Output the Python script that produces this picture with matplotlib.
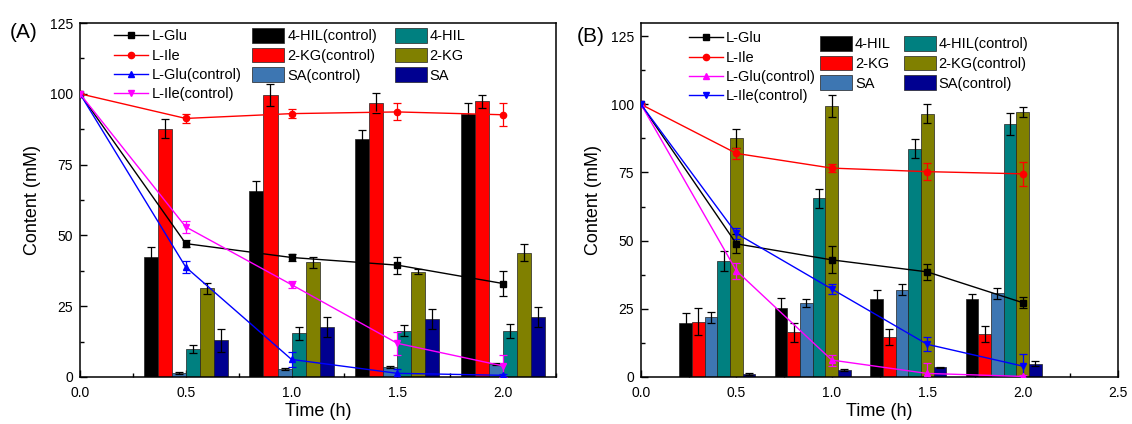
import numpy as np
import matplotlib
matplotlib.use('Agg')
import matplotlib.pyplot as plt
import matplotlib.ticker as ticker
from matplotlib.patches import Patch
from matplotlib.lines import Line2D

plt.rcParams['font.family'] = ['Liberation Sans', 'DejaVu Sans']

# ---------------- dados ----------------
tempos = [0.0, 0.5, 1.0, 1.5, 2.0]
tempos_barras = [0.5, 1.0, 1.5, 2.0]

# painel (A) - linhas
a_glu = [100, 47.1, 42.2, 39.5, 33.0]
a_glu_err = [0, 1.2, 1.2, 3.0, 4.5]
a_ile = [100, 91.3, 93.0, 93.6, 92.6]
a_ile_err = [0, 1.5, 1.5, 3.0, 4.0]
a_glu_ctrl = [100, 38.8, 6.2, 1.3, 0.6]
a_glu_ctrl_err = [0, 2.0, 2.5, 1.5, 0.5]
a_ile_ctrl = [100, 53.0, 32.6, 11.9, 3.9]
a_ile_ctrl_err = [0, 2.0, 1.2, 4.0, 4.0]

# painel (A) - barras
a_hil_ctrl = [42.5, 65.6, 84.1, 92.8]
a_hil_ctrl_err = [3.3, 3.5, 3.0, 4.0]
a_kg_ctrl = [87.7, 99.5, 96.7, 97.3]
a_kg_ctrl_err = [3.3, 3.8, 3.5, 2.3]
a_sa_ctrl = [1.3, 2.7, 3.6, 4.6]
a_sa_ctrl_err = [0.3, 0.4, 0.4, 0.5]
a_hil = [9.8, 15.4, 16.4, 16.3]
a_hil_err = [1.5, 2.2, 2.0, 2.5]
a_kg = [31.3, 40.5, 37.2, 43.9]
a_kg_err = [2.0, 2.0, 1.0, 3.0]
a_sa = [13.0, 17.7, 20.5, 21.1]
a_sa_err = [4.0, 3.5, 3.5, 3.5]

# painel (B) - linhas
b_glu = [100, 48.8, 42.9, 38.5, 27.2]
b_glu_err = [0, 3.5, 5.0, 3.0, 2.0]
b_ile = [100, 82.0, 76.6, 75.3, 74.5]
b_ile_err = [0, 2.0, 1.5, 3.0, 4.5]
b_glu_ctrl = [100, 38.9, 6.1, 1.2, 0.1]
b_glu_ctrl_err = [0, 3.0, 2.0, 4.0, 0.5]
b_ile_ctrl = [100, 52.6, 32.2, 11.9, 3.9]
b_ile_ctrl_err = [0, 2.0, 2.0, 2.5, 4.5]

# painel (B) - barras
b_hil = [19.9, 25.3, 28.4, 28.4]
b_hil_err = [3.5, 3.5, 3.5, 2.0]
b_kg = [20.2, 16.3, 14.5, 15.6]
b_kg_err = [5.0, 3.5, 3.0, 3.0]
b_sa = [21.8, 27.2, 31.9, 30.7]
b_sa_err = [2.0, 1.5, 2.0, 2.0]
b_hil_ctrl = [42.5, 65.6, 83.8, 92.9]
b_hil_ctrl_err = [3.5, 3.5, 3.5, 4.0]
b_kg_ctrl = [87.6, 99.3, 96.6, 97.2]
b_kg_ctrl_err = [3.5, 4.0, 3.5, 2.0]
b_sa_ctrl = [1.0, 2.5, 3.4, 4.8]
b_sa_ctrl_err = [0.3, 0.5, 0.3, 1.0]

PRETO, VERMELHO, AZUL_ACO = '#000000', '#ff0000', '#3d76b2'
TEAL, OLIVA, MARINHO = '#008080', '#808000', '#000090'
AZUL, MAGENTA = '#0000ff', '#ff00ff'
FS_LEG = 10.5

fig = plt.figure(figsize=(11.32, 4.24), dpi=100)
ax_a = fig.add_axes([80 / 1132, 47 / 424, 476 / 1132, 354 / 424])
ax_b = fig.add_axes([641 / 1132, 47.3 / 424, 477 / 1132, 354 / 424])


def barras(ax, series, desloc0):
    w = 0.0664
    t = np.array(tempos_barras)
    for i, (vals, errs, cor, rot) in enumerate(series):
        ax.bar(t + (i + desloc0) * w, vals, width=w, color=cor, edgecolor='#222222',
               linewidth=0.5, yerr=errs, error_kw=dict(ecolor='k', elinewidth=0.9, capsize=3, capthick=0.9),
               zorder=2, label=rot)


def linhas(ax, series):
    for vals, errs, cor, mk, rot in series:
        ax.errorbar(tempos, vals, yerr=errs, color=cor, marker=mk, markersize=4.5, lw=1.0,
                    elinewidth=0.9, capsize=3, capthick=0.9, zorder=4, label=rot)


def formatar(ax, xmax, ymax):
    ax.set_xlim(0, xmax)
    ax.set_ylim(0, ymax)
    ax.xaxis.set_major_locator(ticker.MultipleLocator(0.5))
    ax.xaxis.set_minor_locator(ticker.MultipleLocator(0.25))
    ax.xaxis.set_major_formatter(ticker.FormatStrFormatter('%.1f'))
    ax.yaxis.set_major_locator(ticker.MultipleLocator(25))
    ax.yaxis.set_minor_locator(ticker.MultipleLocator(12.5))
    ax.tick_params(which='both', direction='in', labelsize=10, width=1.0)
    ax.tick_params(which='major', length=5)
    ax.tick_params(which='minor', length=3)
    ax.tick_params(axis='x', pad=6.5)
    ax.tick_params(axis='y', pad=5)
    for sp in ax.spines.values():
        sp.set_linewidth(1.1)
    ax.set_xlabel('Time (h)', fontsize=13, labelpad=2)
    ax.set_ylabel('Content (mM)', fontsize=13, labelpad=6)


# ---------- (A) ----------
series_a = [
    (a_hil_ctrl, a_hil_ctrl_err, PRETO, '4-HIL(control)'),
    (a_kg_ctrl, a_kg_ctrl_err, VERMELHO, '2-KG(control)'),
    (a_sa_ctrl, a_sa_ctrl_err, AZUL_ACO, 'SA(control)'),
    (a_hil, a_hil_err, TEAL, '4-HIL'),
    (a_kg, a_kg_err, OLIVA, '2-KG'),
    (a_sa, a_sa_err, MARINHO, 'SA'),
]
barras(ax_a, series_a, -2.5)
linhas_a = [
    (a_glu, a_glu_err, PRETO, 's', 'L-Glu'),
    (a_ile, a_ile_err, VERMELHO, 'o', 'L-Ile'),
    (a_glu_ctrl, a_glu_ctrl_err, AZUL, '^', 'L-Glu(control)'),
    (a_ile_ctrl, a_ile_ctrl_err, MAGENTA, 'v', 'L-Ile(control)'),
]
linhas(ax_a, linhas_a)
formatar(ax_a, 2.25, 125)

# ---------- (B) ----------
series_b = [
    (b_hil, b_hil_err, PRETO, '4-HIL'),
    (b_kg, b_kg_err, VERMELHO, '2-KG'),
    (b_sa, b_sa_err, AZUL_ACO, 'SA'),
    (b_hil_ctrl, b_hil_ctrl_err, TEAL, '4-HIL(control)'),
    (b_kg_ctrl, b_kg_ctrl_err, OLIVA, '2-KG(control)'),
    (b_sa_ctrl, b_sa_ctrl_err, MARINHO, 'SA(control)'),
]
barras(ax_b, series_b, -4)
linhas_b = [
    (b_glu, b_glu_err, PRETO, 's', 'L-Glu'),
    (b_ile, b_ile_err, VERMELHO, 'o', 'L-Ile'),
    (b_glu_ctrl, b_glu_ctrl_err, MAGENTA, '^', 'L-Glu(control)'),
    (b_ile_ctrl, b_ile_ctrl_err, AZUL, 'v', 'L-Ile(control)'),
]
linhas(ax_b, linhas_b)
formatar(ax_b, 2.5, 130)


def legendas(ax, lin, bar, pos_lin, pos_bar, colsp):
    h_lin = [Line2D([0], [0], color=c, marker=m, markersize=4.5, lw=1.0) for _, _, c, m, _ in lin]
    leg1 = ax.legend(h_lin, [r for *_, r in lin], loc='upper left', bbox_to_anchor=pos_lin,
                     bbox_transform=fig.transFigure, frameon=False, fontsize=FS_LEG,
                     borderpad=0, handlelength=2.3, handletextpad=0.25, labelspacing=0.37)
    ax.add_artist(leg1)
    h_bar = [Patch(facecolor=c, edgecolor='#222222', linewidth=0.5) for _, _, c, _ in bar]
    ax.legend(h_bar, [r for *_, r in bar], loc='upper left', bbox_to_anchor=pos_bar,
              bbox_transform=fig.transFigure, frameon=False, fontsize=FS_LEG, ncol=2,
              borderpad=0, handlelength=2.2, handleheight=1.15, handletextpad=0.2,
              labelspacing=0.3, columnspacing=colsp)


legendas(ax_a, linhas_a, series_a, (107 / 1132, 1 - 22 / 424), (245 / 1132, 1 - 21 / 424), 1.2)
legendas(ax_b, linhas_b, series_b, (681.7 / 1132, 1 - 24 / 424), (812.7 / 1132, 1 - 29 / 424), 0.87)

fig.text(10 / 1132, 1 - 33 / 424, '(A)', fontsize=15, va='center', ha='left')
fig.text(577 / 1132, 1 - 36 / 424, '(B)', fontsize=15, va='center', ha='left')

fig.savefig('out.png', dpi=100)
